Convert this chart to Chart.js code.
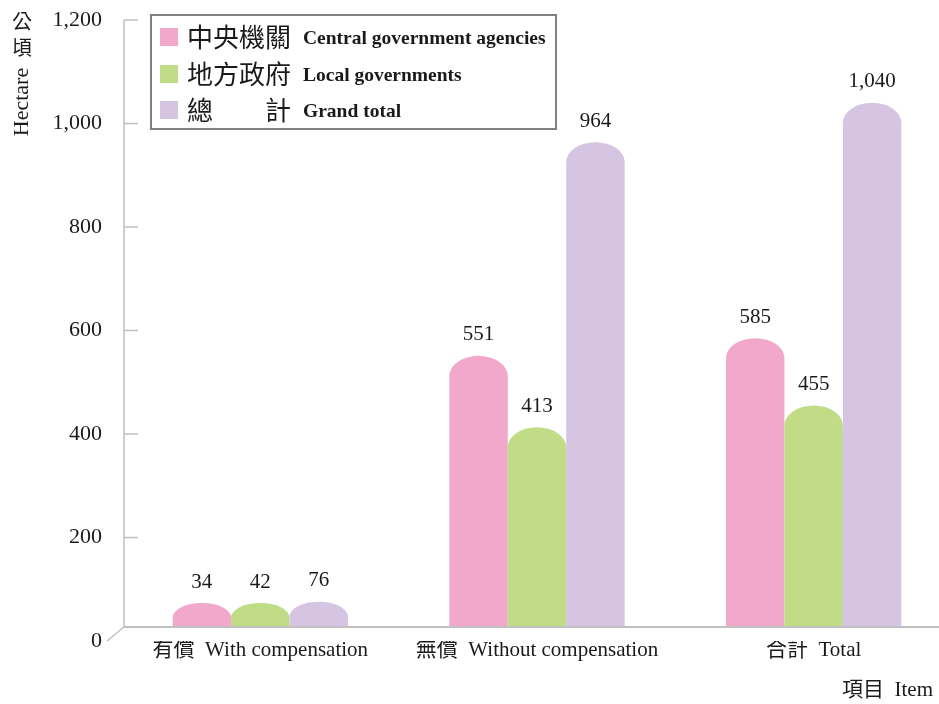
<!DOCTYPE html>
<html>
<head>
<meta charset="utf-8">
<script src="https://cdn.jsdelivr.net/npm/chart.js@4.4.1/dist/chart.umd.min.js"></script>
<style>
html, body { margin: 0; padding: 0; background: #fff; overflow: hidden; }
#wrap { width: 939px; height: 704px; position: relative; overflow: hidden; }
</style>
</head>
<body>
<div id="wrap"><canvas id="myChart" width="952" height="704"></canvas></div>
<script>
// Données du graphique
var categories = ['有償  With compensation', '無償  Without compensation', '合計  Total'];
var centralValues = [34, 551, 585];
var localValues = [42, 413, 455];
var totalValues = [76, 964, 1040];
var yTicks = [0, 200, 400, 600, 800, 1000, 1200];
var seriesZh = ['中央機關', '地方政府', '總　　計'];
var seriesEn = ['Central government agencies', 'Local governments', 'Grand total'];
var seriesColors = ['#F2A8CB', '#C0DC87', '#D6C5E2'];

var serif = '"Liberation Serif", "Noto Sans CJK TC", serif';
var cjk = '"Noto Sans CJK TC", sans-serif';
var textColor = '#1a1a1a';
var axisColor = '#c0c0c0';
var floorOffset = 14; // décalage du "sol" en perspective

// Barres avec un sommet arrondi (demi-ellipse) + étiquettes de valeur
var domeBars = {
    id: 'domeBars',
    beforeDatasetsDraw: function(chart) {
        var ctx = chart.ctx;
        var floorY = chart.scales.y.getPixelForValue(0) - floorOffset;
        chart.data.datasets.forEach(function(ds, i) {
            var meta = chart.getDatasetMeta(i);
            meta.data.forEach(function(bar, j) {
                var rx = bar.width / 2;
                var top = Math.min(bar.y, floorY - 24);
                var ry = Math.min(20, (floorY - top) * 0.6);
                ctx.save();
                ctx.fillStyle = ds.backgroundColor;
                ctx.beginPath();
                ctx.moveTo(bar.x - rx, floorY);
                ctx.lineTo(bar.x - rx, top + ry);
                ctx.ellipse(bar.x, top + ry, rx, ry, 0, Math.PI, 2 * Math.PI);
                ctx.lineTo(bar.x + rx, floorY);
                ctx.closePath();
                ctx.fill();
                ctx.fillStyle = textColor;
                ctx.font = '21px ' + serif;
                ctx.textAlign = 'center';
                ctx.textBaseline = 'middle';
                ctx.fillText(ds.data[j].toLocaleString('en-US'), bar.x, top - 21);
                ctx.restore();
            });
        });
        return false;
    }
};

// Axes, légende et titres
var decorations = {
    id: 'decorations',
    afterDraw: function(chart) {
        var ctx = chart.ctx;
        var area = chart.chartArea;
        var yScale = chart.scales.y;
        var floorY = yScale.getPixelForValue(0) - floorOffset;
        var left = area.left + 2;

        ctx.save();
        ctx.strokeStyle = axisColor;
        ctx.lineWidth = 1.5;
        ctx.beginPath();
        ctx.moveTo(left, area.top);
        ctx.lineTo(left, floorY);
        yTicks.forEach(function(v) {
            if (v === 0) return;
            var y = yScale.getPixelForValue(v);
            ctx.moveTo(left, y);
            ctx.lineTo(left + 14, y);
        });
        ctx.moveTo(left, floorY);
        ctx.lineTo(left - 17, floorY + 14);
        ctx.stroke();
        ctx.lineWidth = 2;
        ctx.beginPath();
        ctx.moveTo(left, floorY);
        ctx.lineTo(chart.width, floorY);
        ctx.stroke();

        // Légende
        ctx.fillStyle = '#fff';
        ctx.fillRect(151, 15, 405, 114);
        ctx.strokeStyle = '#808080';
        ctx.lineWidth = 2;
        ctx.strokeRect(151, 15, 405, 114);
        var rows = [37, 74, 110];
        ctx.textBaseline = 'middle';
        ctx.textAlign = 'left';
        for (var i = 0; i < 3; i++) {
            ctx.fillStyle = seriesColors[i];
            ctx.fillRect(160, rows[i] - 9, 18, 18);
            ctx.fillStyle = textColor;
            ctx.font = '26px ' + cjk;
            ctx.fillText(seriesZh[i], 187, rows[i]);
            ctx.font = 'bold 19.5px ' + serif;
            ctx.fillText(seriesEn[i], 303, rows[i] + 2);
        }

        // Titre de l'axe Y
        ctx.fillStyle = textColor;
        ctx.textAlign = 'center';
        ctx.font = '20px ' + cjk;
        ctx.fillText('公', 22, 21);
        ctx.fillText('頃', 22, 47);
        ctx.save();
        ctx.translate(22, 102);
        ctx.rotate(-Math.PI / 2);
        ctx.font = '22px ' + serif;
        ctx.fillText('Hectare', 0, 0);
        ctx.restore();

        // Titre de l'axe X
        ctx.textAlign = 'left';
        ctx.font = '21px ' + serif;
        ctx.fillText('項目  Item', 842, 690);
        ctx.restore();
    }
};

var ctx = document.getElementById('myChart').getContext('2d');
var myChart = new Chart(ctx, {
    type: 'bar',
    data: {
        labels: categories,
        datasets: [
            { label: seriesEn[0], data: centralValues, backgroundColor: seriesColors[0] },
            { label: seriesEn[1], data: localValues, backgroundColor: seriesColors[1] },
            { label: seriesEn[2], data: totalValues, backgroundColor: seriesColors[2] }
        ]
    },
    options: {
        responsive: false,
        animation: false,
        layout: { padding: { top: 20, right: 0, left: 0, bottom: 0 } },
        datasets: { bar: { barPercentage: 1, categoryPercentage: 0.634 } },
        plugins: { legend: { display: false }, tooltip: { enabled: false } },
        scales: {
            x: {
                grid: { display: false },
                border: { display: false },
                ticks: { color: textColor, font: { family: serif, size: 21 }, padding: -11, maxRotation: 0, autoSkip: false },
                afterFit: function(scale) { scale.height = 63; }
            },
            y: {
                min: 0,
                max: 1200,
                grid: { display: false, drawTicks: false },
                border: { display: false },
                ticks: {
                    stepSize: 200,
                    padding: 20,
                    color: textColor,
                    font: { family: serif, size: 22 },
                    callback: function(v) { return v.toLocaleString('en-US'); }
                },
                afterFit: function(scale) {
                    scale.width = 122;
                    scale.paddingTop = 0;
                    scale.paddingBottom = 0;
                }
            }
        }
    },
    plugins: [domeBars, decorations]
});
</script>
</body>
</html>
